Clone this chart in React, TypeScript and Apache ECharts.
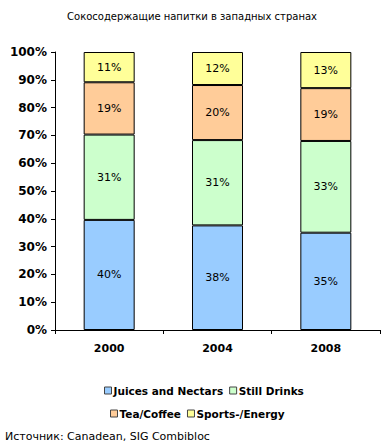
import React, { useEffect, useRef } from "react";
import * as echarts from "echarts";

const years = ["2000", "2004", "2008"];
const seriesNames = ["Juices and Nectars", "Still Drinks", "Tea/Coffee", "Sports-/Energy"];
const juices = [40, 38, 35];
const still = [31, 31, 33];
const tea = [19, 20, 19];
const sports = [11, 12, 13];
const colors = ["#99CCFF", "#CCFFCC", "#FFCC99", "#FFFF99"];
const yTicks = { min: 0, max: 100, interval: 10 };

const FONT = "DejaVu Sans";

export default function App() {
  const ref = useRef<HTMLDivElement>(null);
  useEffect(() => {
    if (!ref.current) return;
    const chart = echarts.init(ref.current, undefined, { renderer: "svg" });
    const raw = [juices, still, tea, sports];
    const totals = years.map((_, i) => raw.reduce((s, arr) => s + arr[i], 0));
    const series = raw.map((arr, si) => ({
      name: seriesNames[si],
      type: "bar",
      stack: "total",
      barWidth: 51,
      data: arr.map((v, i) => ({ value: (v / totals[i]) * 100, raw: v })),
      itemStyle: { color: colors[si], borderColor: "#000", borderWidth: 1 },
      label: {
        show: true,
        position: "inside",
        color: "#000",
        fontFamily: FONT,
        fontSize: 11,
        formatter: (p: any) => `${p.data.raw}%`,
      },
    }));
    const legendBase = {
      itemWidth: 7,
      itemHeight: 7,
      itemGap: 6,
      icon: "rect",
      itemStyle: { borderWidth: 1, borderColor: "#444" },
      textStyle: { fontFamily: FONT, fontSize: 10.5, fontWeight: "bold", color: "#000", padding: [0, 0, 0, -3] },
    };
    chart.setOption({
      animation: false,
      textStyle: { fontFamily: FONT },
      title: {
        text: "Сокосодержащие напитки в западных странах",
        left: "center",
        top: 6,
        textStyle: { fontFamily: FONT, fontSize: 10, fontWeight: "normal", color: "#000" },
      },
      graphic: [
        {
          type: "text",
          left: 5,
          top: 431,
          style: { text: "Источник: Canadean, SIG Combibloc", fontFamily: FONT, fontSize: 11, fill: "#000" },
        },
      ],
      legend: [
        { ...legendBase, data: seriesNames.slice(0, 2), left: 99, top: 380 },
        { ...legendBase, data: seriesNames.slice(2, 4), left: 105, top: 403 },
      ],
      grid: { left: 55, top: 52, right: 4, bottom: 118 },
      xAxis: {
        type: "category",
        data: years,
        axisLine: { lineStyle: { color: "#000" } },
        axisTick: { show: true, length: 4, lineStyle: { color: "#000" } },
        axisLabel: { color: "#000", fontFamily: FONT, fontWeight: "bold", fontSize: 11, margin: 13 },
      },
      yAxis: {
        type: "value",
        min: yTicks.min,
        max: yTicks.max,
        interval: yTicks.interval,
        splitLine: { show: false },
        axisLine: { show: true, lineStyle: { color: "#000" } },
        axisTick: { show: true, length: 4, lineStyle: { color: "#000" } },
        axisLabel: { color: "#000", fontFamily: FONT, fontWeight: "bold", fontSize: 12, margin: 8, formatter: "{value}%" },
      },
      series,
    });
    return () => chart.dispose();
  }, []);
  return <div ref={ref} style={{ width: 384, height: 448, position: "absolute", left: 0, top: 0 }} />;
}
